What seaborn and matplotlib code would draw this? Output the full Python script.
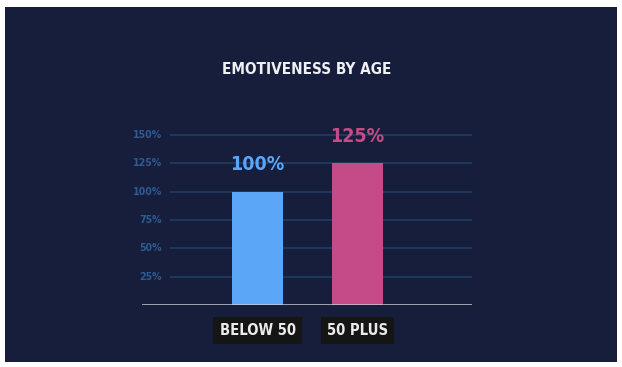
import matplotlib
matplotlib.use("Agg")
import matplotlib.pyplot as plt
from matplotlib.patches import Rectangle
import matplotlib.transforms as mtransforms
import seaborn as sns
import pandas as pd

categories = ["BELOW 50", "50 PLUS"]
values = [100, 125]
value_labels = ["100%", "125%"]
yticks = [25, 50, 75, 100, 125, 150]
ytick_labels = ["25%", "50%", "75%", "100%", "125%", "150%"]
title = "EMOTIVENESS BY AGE"

BG = "#171e3b"
BAR_COLORS = ["#5ba6f7", "#c44b87"]
GRID = "#203f69"
TICK = "#2f5a92"
FONT = ["DejaVu Sans"]
STRETCH = "condensed"

sns.set_theme(style="white")
plt.rcParams["font.family"] = FONT

W, H = 622, 367
fig = plt.figure(figsize=(W / 100, H / 100), dpi=100, facecolor="white")
fig.patches.append(Rectangle((5 / W, 1 - 362 / H), 612 / W, 355 / H,
                             transform=fig.transFigure, facecolor=BG,
                             edgecolor="none", zorder=-10))

ax = fig.add_axes([142 / W, 1 - 305 / H, 330 / W, 185 / H])
ax.set_facecolor("none")

df = pd.DataFrame({"cat": categories, "val": values})
sns.barplot(data=df, x="cat", y="val", hue="cat", palette=BAR_COLORS,
            width=0.51, legend=False, ax=ax, saturation=1, zorder=3,
            linewidth=0)

ax.set_xlim(-1.155, 2.145)
ax.set_ylim(0, 163)
ax.hlines(yticks, -0.875, 2.145, color=GRID, lw=1.1, zorder=1)
ax.axhline(0, color="#c9ccd4", lw=1.8, zorder=4)

for t, lab in zip(yticks, ytick_labels):
    ax.text(-0.955, t, lab, ha="right", va="center", color=TICK,
            fontsize=7.6, fontweight="bold", family=FONT, fontstretch=STRETCH)

for i, (v, lab) in enumerate(zip(values, value_labels)):
    ax.text(i, v + 23.5, lab, ha="center", va="center", color=BAR_COLORS[i],
            fontsize=14, fontweight="bold", family=FONT, fontstretch=STRETCH,
            zorder=5)

trans = mtransforms.blended_transform_factory(ax.transData, ax.transAxes)
for i, c in enumerate(categories):
    ax.text(i, -0.138, c, transform=trans, ha="center", va="center",
            color="#ebebeb", fontsize=10.6, fontweight="bold", family=FONT,
            fontstretch=STRETCH,
            bbox=dict(boxstyle="square,pad=0.42", facecolor="#151515",
                      edgecolor="none"), clip_on=False)

ax.set_xticks([])
ax.set_yticks([])
ax.set_xlabel("")
ax.set_ylabel("")
for s in ax.spines.values():
    s.set_visible(False)

fig.text(307 / W, 1 - 70 / H, title, ha="center", va="center",
         color="#eef0f3", fontsize=11, fontweight="bold", family=FONT,
         fontstretch=STRETCH)

fig.savefig("out.png", dpi=100, facecolor="white")
